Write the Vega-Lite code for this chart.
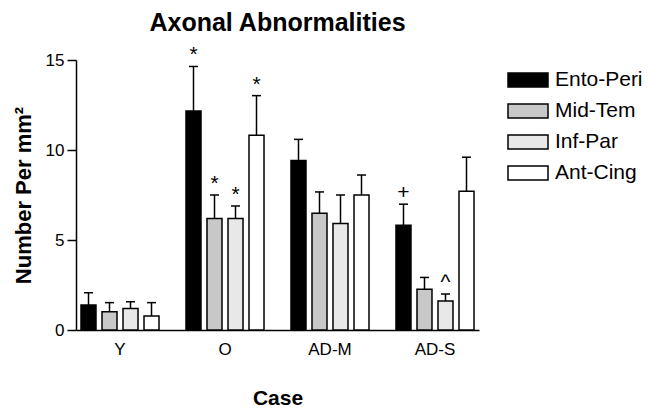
{
  "$schema": "https://vega.github.io/schema/vega-lite/v6.json",
  "width": 403,
  "height": 270,
  "autosize": {"type": "none"},
  "padding": {"left": 76, "top": 60, "right": 172, "bottom": 83},
  "background": "white",
  "title": {
    "text": "Axonal Abnormalities",
    "font": "Liberation Sans",
    "fontSize": 25,
    "fontWeight": "bold",
    "color": "black",
    "anchor": "middle",
    "frame": "group",
    "offset": 8
  },
  "data": {
    "values": [
      {"case": "Y", "region": "Ento-Peri", "value": 1.39, "err": 2.07, "sig": ""},
      {"case": "Y", "region": "Mid-Tem", "value": 1.02, "err": 1.52, "sig": ""},
      {"case": "Y", "region": "Inf-Par", "value": 1.2, "err": 1.57, "sig": ""},
      {"case": "Y", "region": "Ant-Cing", "value": 0.78, "err": 1.52, "sig": ""},
      {"case": "O", "region": "Ento-Peri", "value": 12.16, "err": 14.64, "sig": "*"},
      {"case": "O", "region": "Mid-Tem", "value": 6.2, "err": 7.5, "sig": "*"},
      {"case": "O", "region": "Inf-Par", "value": 6.2, "err": 6.89, "sig": "*"},
      {"case": "O", "region": "Ant-Cing", "value": 10.82, "err": 13.02, "sig": "*"},
      {"case": "AD-M", "region": "Ento-Peri", "value": 9.41, "err": 10.59, "sig": ""},
      {"case": "AD-M", "region": "Mid-Tem", "value": 6.49, "err": 7.67, "sig": ""},
      {"case": "AD-M", "region": "Inf-Par", "value": 5.92, "err": 7.5, "sig": ""},
      {"case": "AD-M", "region": "Ant-Cing", "value": 7.5, "err": 8.61, "sig": ""},
      {"case": "AD-S", "region": "Ento-Peri", "value": 5.82, "err": 6.99, "sig": "+"},
      {"case": "AD-S", "region": "Mid-Tem", "value": 2.27, "err": 2.92, "sig": ""},
      {"case": "AD-S", "region": "Inf-Par", "value": 1.61, "err": 2.0, "sig": "^"},
      {"case": "AD-S", "region": "Ant-Cing", "value": 7.71, "err": 9.6, "sig": ""}
    ]
  },
  "encoding": {
    "x": {
      "field": "case",
      "type": "nominal",
      "sort": ["Y", "O", "AD-M", "AD-S"],
      "scale": {"paddingInner": 0.257, "paddingOuter": 0.0476},
      "axis": {
        "title": "Case",
        "labelAngle": 0,
        "ticks": false,
        "labelPadding": 11,
        "titlePadding": 30
      }
    },
    "xOffset": {
      "field": "region",
      "type": "nominal",
      "sort": ["Ento-Peri", "Mid-Tem", "Inf-Par", "Ant-Cing"],
      "scale": {"paddingInner": 0.2857, "paddingOuter": 0}
    }
  },
  "layer": [
    {
      "mark": {"type": "bar", "stroke": "black", "strokeWidth": 1.5},
      "encoding": {
        "y": {
          "field": "value",
          "type": "quantitative",
          "scale": {"domain": [0, 15], "nice": false},
          "axis": {
            "title": "Number Per mm²",
            "values": [0, 5, 10, 15],
            "tickSize": 9,
            "labelPadding": 3,
            "titlePadding": 10,
            "titleFontSize": 22,
            "grid": false
          }
        },
        "fill": {
          "field": "region",
          "type": "nominal",
          "sort": ["Ento-Peri", "Mid-Tem", "Inf-Par", "Ant-Cing"],
          "scale": {
            "domain": ["Ento-Peri", "Mid-Tem", "Inf-Par", "Ant-Cing"],
            "range": ["#000000", "#c8c8c8", "#e8e8e8", "#ffffff"]
          },
          "legend": {
            "title": null,
            "orient": "none",
            "legendX": 431,
            "legendY": -1,
            "symbolType": "M-1,-0.35L1,-0.35L1,0.35L-1,0.35Z",
            "symbolSize": 1600,
            "symbolStrokeColor": "black",
            "symbolStrokeWidth": 1.5,
            "symbolOpacity": 1,
            "labelFont": "Liberation Sans",
            "labelFontSize": 21,
            "labelColor": "black",
            "labelOffset": 6,
            "rowPadding": 0,
            "padding": 0
          }
        }
      }
    },
    {
      "mark": {"type": "rule", "stroke": "black", "strokeWidth": 1.5},
      "encoding": {
        "y": {"field": "value", "type": "quantitative"},
        "y2": {"field": "err"}
      }
    },
    {
      "mark": {"type": "tick", "color": "black", "thickness": 1.5, "size": 9, "opacity": 1},
      "encoding": {
        "y": {"field": "err", "type": "quantitative"}
      }
    },
    {
      "mark": {"type": "text", "font": "Liberation Sans", "fontSize": 21, "color": "black", "baseline": "bottom", "dy": -1},
      "encoding": {
        "y": {"field": "err", "type": "quantitative"},
        "text": {"field": "sig"}
      }
    }
  ],
  "config": {
    "view": {"stroke": null},
    "font": "Liberation Sans",
    "axis": {
      "domainColor": "black",
      "domainWidth": 1.5,
      "tickColor": "black",
      "tickWidth": 1.5,
      "labelFont": "Liberation Sans",
      "labelFontSize": 17,
      "labelColor": "black",
      "titleFont": "Liberation Sans",
      "titleFontSize": 21,
      "titleFontWeight": "bold",
      "titleColor": "black"
    }
  }
}
